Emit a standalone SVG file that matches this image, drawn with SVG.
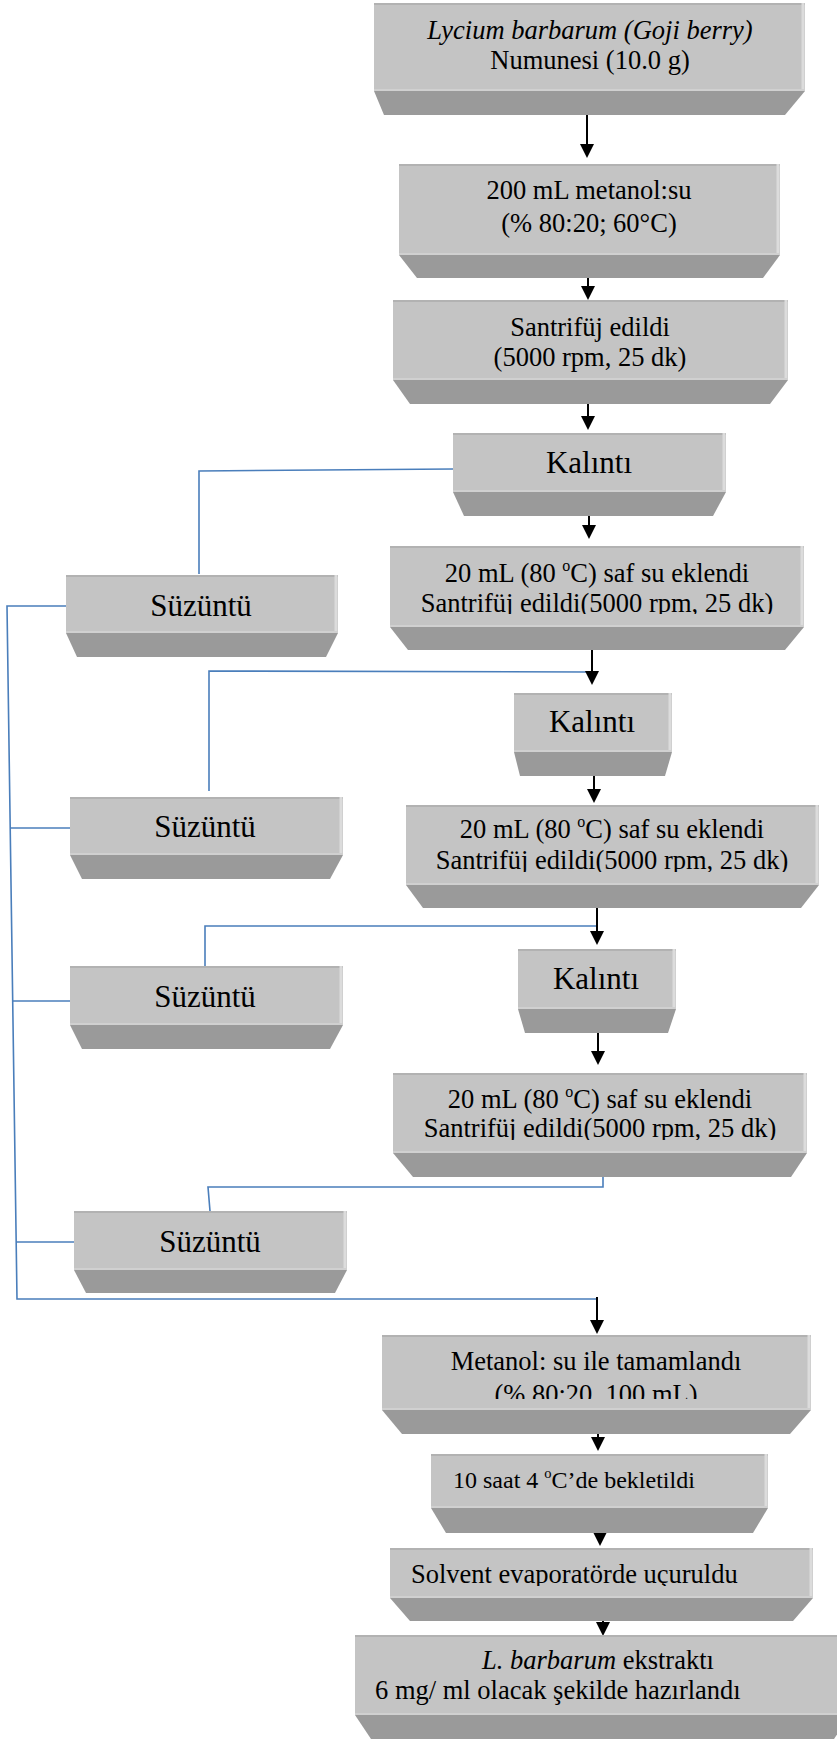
<svg xmlns="http://www.w3.org/2000/svg" width="837" height="1739" viewBox="0 0 837 1739">
<style>
.face{fill:#c4c4c4}
.bevel{fill:#9a9a9a}
.tp{stroke:#b2b2b2;stroke-width:2;fill:none}
.hl{stroke:#dcdcdc;stroke-width:3;fill:none}
.bt{stroke:#d0d0d0;stroke-width:2;fill:none}
text{font-family:"Liberation Serif","Times New Roman",serif;fill:#000}
.t{font-size:26.5px;text-anchor:middle}
.tl{font-size:26.5px}
.big{font-size:31px;text-anchor:middle}
.blue{stroke:#4a7ebb;stroke-width:1.6;fill:none}
.arr{stroke:#000;stroke-width:2;fill:none;marker-end:url(#ah)}
</style>
<defs>
<marker id="ah" markerUnits="userSpaceOnUse" markerWidth="14" markerHeight="14" refX="4" refY="7" orient="auto">
<path d="M0,0 L14,7 L0,14 z" fill="#000"/>
</marker>
<clipPath id="c5"><rect x="380" y="540" width="440" height="74"/></clipPath>
<clipPath id="c7"><rect x="400" y="800" width="430" height="72"/></clipPath>
<clipPath id="c9"><rect x="380" y="1068" width="440" height="72"/></clipPath>
<clipPath id="c10"><rect x="370" y="1330" width="450" height="69"/></clipPath>
<clipPath id="c12"><rect x="380" y="1540" width="440" height="46"/></clipPath>
</defs>
<rect width="837" height="1739" fill="#fff"/>

<g id="connectors">
<path class="blue" d="M453,469 L199,471 L199,574"/>
<path class="blue" d="M587,672 L209,671 L209,791"/>
<path class="blue" d="M597,926 L205,926 L205,966"/>
<path class="blue" d="M603,1177 L603,1187 L208,1187 L210,1211"/>
<path class="blue" d="M67,606 L7,606 L17,1299 L597,1299"/>
<path class="blue" d="M10,828 L75,828"/>
<path class="blue" d="M13,1001 L75,1001"/>
<path class="blue" d="M16,1242 L79,1242"/>
<line class="arr" x1="587" y1="115" x2="587" y2="148"/>
<line class="arr" x1="588" y1="278" x2="588" y2="290"/>
<line class="arr" x1="588" y1="404" x2="588" y2="420"/>
<line class="arr" x1="589" y1="516" x2="589" y2="529"/>
<line class="arr" x1="592" y1="650" x2="592" y2="675"/>
<line class="arr" x1="594" y1="776" x2="594" y2="793"/>
<line class="arr" x1="597" y1="908" x2="597" y2="935"/>
<line class="arr" x1="598" y1="1028" x2="598" y2="1055"/>
<line class="arr" x1="597" y1="1297" x2="597" y2="1324"/>
<line class="arr" x1="598" y1="1428" x2="598" y2="1441"/>
<line class="arr" x1="600" y1="1530" x2="600" y2="1536"/>
<line class="arr" x1="603" y1="1614" x2="603" y2="1626"/>
</g>

<g id="n1">
<polygon class="bevel" points="374,91 805,91 785,115 384,115"/>
<rect class="face" x="374" y="3" width="431" height="88"/>
<line class="tp" x1="374" y1="4" x2="805" y2="4"/><line class="hl" x1="803" y1="3" x2="803" y2="91"/><line class="bt" x1="374" y1="90" x2="805" y2="90"/>
<text class="t" x="590" y="39" font-style="italic">Lycium barbarum (Goji berry)</text>
<text class="t" x="590" y="69">Numunesi (10.0 g)</text>
</g>

<g id="n2">
<polygon class="bevel" points="399,255 780,255 763,278 417,278"/>
<rect class="face" x="399" y="164" width="381" height="91"/>
<line class="tp" x1="399" y1="165" x2="780" y2="165"/><line class="hl" x1="778" y1="164" x2="778" y2="255"/><line class="bt" x1="399" y1="254" x2="780" y2="254"/>
<text class="t" x="589" y="199">200 mL metanol:su</text>
<text class="t" x="589" y="232">(% 80:20; 60°C)</text>
</g>

<g id="n3">
<polygon class="bevel" points="393,380 788,380 770,404 410,404"/>
<rect class="face" x="393" y="300" width="395" height="80"/>
<line class="tp" x1="393" y1="301" x2="788" y2="301"/><line class="hl" x1="786" y1="300" x2="786" y2="380"/><line class="bt" x1="393" y1="379" x2="788" y2="379"/>
<text class="t" x="590" y="336">Santrifüj edildi</text>
<text class="t" x="590" y="366">(5000 rpm, 25 dk)</text>
</g>

<g id="n4">
<polygon class="bevel" points="453,492 726,492 713,516 464,516"/>
<rect class="face" x="453" y="433" width="273" height="59"/>
<line class="tp" x1="453" y1="434" x2="726" y2="434"/><line class="hl" x1="724" y1="433" x2="724" y2="492"/><line class="bt" x1="453" y1="491" x2="726" y2="491"/>
<text class="big" x="589" y="473">Kalıntı</text>
</g>

<g id="n5">
<polygon class="bevel" points="390,627 804,627 785,650 408,650"/>
<rect class="face" x="390" y="546" width="414" height="81"/>
<line class="tp" x1="390" y1="547" x2="804" y2="547"/><line class="hl" x1="802" y1="546" x2="802" y2="627"/><line class="bt" x1="390" y1="626" x2="804" y2="626"/>
<g clip-path="url(#c5)">
<text class="t" x="597" y="582">20 mL (80 <tspan font-size="16" dy="-11">o</tspan><tspan dy="11">C) saf su eklendi</tspan></text>
<text class="t" x="597" y="612">Santrifüj edildi(5000 rpm, 25 dk)</text>
</g>
</g>

<g id="n6">
<polygon class="bevel" points="514,752 672,752 665,776 520,776"/>
<rect class="face" x="514" y="693" width="158" height="59"/>
<line class="tp" x1="514" y1="694" x2="672" y2="694"/><line class="hl" x1="670" y1="693" x2="670" y2="752"/><line class="bt" x1="514" y1="751" x2="672" y2="751"/>
<text class="big" x="592" y="732">Kalıntı</text>
</g>

<g id="n7">
<polygon class="bevel" points="406,885 819,885 801,908 423,908"/>
<rect class="face" x="406" y="805" width="413" height="80"/>
<line class="tp" x1="406" y1="806" x2="819" y2="806"/><line class="hl" x1="817" y1="805" x2="817" y2="885"/><line class="bt" x1="406" y1="884" x2="819" y2="884"/>
<g clip-path="url(#c7)">
<text class="t" x="612" y="838">20 mL (80 <tspan font-size="16" dy="-11">o</tspan><tspan dy="11">C) saf su eklendi</tspan></text>
<text class="t" x="612" y="869">Santrifüj edildi(5000 rpm, 25 dk)</text>
</g>
</g>

<g id="n8">
<polygon class="bevel" points="518,1009 676,1009 668,1033 525,1033"/>
<rect class="face" x="518" y="949" width="158" height="60"/>
<line class="tp" x1="518" y1="950" x2="676" y2="950"/><line class="hl" x1="674" y1="949" x2="674" y2="1009"/><line class="bt" x1="518" y1="1008" x2="676" y2="1008"/>
<text class="big" x="596" y="989">Kalıntı</text>
</g>

<g id="n9">
<polygon class="bevel" points="393,1153 807,1153 791,1177 413,1177"/>
<rect class="face" x="393" y="1073" width="414" height="80"/>
<line class="tp" x1="393" y1="1074" x2="807" y2="1074"/><line class="hl" x1="805" y1="1073" x2="805" y2="1153"/><line class="bt" x1="393" y1="1152" x2="807" y2="1152"/>
<g clip-path="url(#c9)">
<text class="t" x="600" y="1108">20 mL (80 <tspan font-size="16" dy="-11">o</tspan><tspan dy="11">C) saf su eklendi</tspan></text>
<text class="t" x="600" y="1137">Santrifüj edildi(5000 rpm, 25 dk)</text>
</g>
</g>

<g id="n10">
<polygon class="bevel" points="382,1410 811,1410 790,1434 402,1434"/>
<rect class="face" x="382" y="1335" width="429" height="75"/>
<line class="tp" x1="382" y1="1336" x2="811" y2="1336"/><line class="hl" x1="809" y1="1335" x2="809" y2="1410"/><line class="bt" x1="382" y1="1409" x2="811" y2="1409"/>
<g clip-path="url(#c10)">
<text class="t" x="596" y="1370">Metanol: su ile tamamlandı</text>
<text class="t" x="596" y="1403">(% 80:20, 100 mL)</text>
</g>
</g>

<g id="n11">
<polygon class="bevel" points="431,1508 768,1508 753,1533 446,1533"/>
<rect class="face" x="431" y="1454" width="337" height="54"/>
<line class="tp" x1="431" y1="1455" x2="768" y2="1455"/><line class="hl" x1="766" y1="1454" x2="766" y2="1508"/><line class="bt" x1="431" y1="1507" x2="768" y2="1507"/>
<text class="tl" x="453" y="1488" font-size="24" style="font-size:24px">10 saat 4 <tspan style="font-size:14.5px" dy="-10">o</tspan><tspan dy="10">C’de bekletildi</tspan></text>
</g>

<g id="n12">
<polygon class="bevel" points="390,1598 813,1598 793,1621 410,1621"/>
<rect class="face" x="390" y="1548" width="423" height="50"/>
<line class="tp" x1="390" y1="1549" x2="813" y2="1549"/><line class="hl" x1="811" y1="1548" x2="811" y2="1598"/><line class="bt" x1="390" y1="1597" x2="813" y2="1597"/>
<g clip-path="url(#c12)">
<text class="tl" x="411" y="1583">Solvent evaporatörde uçuruldu</text>
</g>
</g>

<g id="n13">
<polygon class="bevel" points="355,1715 850,1715 830,1745 375,1745"/>
<rect class="face" x="355" y="1635" width="495" height="80"/>
<line class="tp" x1="355" y1="1636" x2="850" y2="1636"/><line class="bt" x1="355" y1="1714" x2="850" y2="1714"/>
<text class="t" x="598" y="1669"><tspan font-style="italic">L. barbarum</tspan> ekstraktı</text>
<text class="tl" x="375" y="1699">6 mg/ ml olacak şekilde hazırlandı</text>
</g>

<g id="s1">
<polygon class="bevel" points="66,633 338,633 326,657 77,657"/>
<rect class="face" x="66" y="575" width="272" height="58"/>
<line class="tp" x1="66" y1="576" x2="338" y2="576"/><line class="hl" x1="336" y1="575" x2="336" y2="633"/><line class="bt" x1="66" y1="632" x2="338" y2="632"/>
<text class="big" x="201" y="616">Süzüntü</text>
</g>

<g id="s2">
<polygon class="bevel" points="70,855 343,855 330,879 82,879"/>
<rect class="face" x="70" y="797" width="273" height="58"/>
<line class="tp" x1="70" y1="798" x2="343" y2="798"/><line class="hl" x1="341" y1="797" x2="341" y2="855"/><line class="bt" x1="70" y1="854" x2="343" y2="854"/>
<text class="big" x="205" y="837">Süzüntü</text>
</g>

<g id="s3">
<polygon class="bevel" points="70,1025 343,1025 330,1049 82,1049"/>
<rect class="face" x="70" y="966" width="273" height="59"/>
<line class="tp" x1="70" y1="967" x2="343" y2="967"/><line class="hl" x1="341" y1="966" x2="341" y2="1025"/><line class="bt" x1="70" y1="1024" x2="343" y2="1024"/>
<text class="big" x="205" y="1007">Süzüntü</text>
</g>

<g id="s4">
<polygon class="bevel" points="74,1270 347,1270 335,1293 86,1293"/>
<rect class="face" x="74" y="1211" width="273" height="59"/>
<line class="tp" x1="74" y1="1212" x2="347" y2="1212"/><line class="hl" x1="345" y1="1211" x2="345" y2="1270"/><line class="bt" x1="74" y1="1269" x2="347" y2="1269"/>
<text class="big" x="210" y="1252">Süzüntü</text>
</g>
</svg>
